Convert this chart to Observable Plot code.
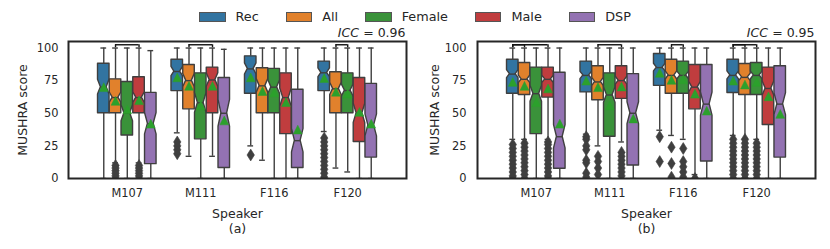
<!DOCTYPE html>
<html><head><meta charset="utf-8">
<script src="https://cdn.jsdelivr.net/npm/d3@7"></script>
<script src="https://cdn.jsdelivr.net/npm/@observablehq/plot@0.6"></script>
<style>
body{margin:0;background:#fff;}
#chart{position:relative;width:830px;height:249px;font-family:"DejaVu Sans",sans-serif;color:#262626;overflow:hidden;}
.panel{position:absolute;top:0;}
#legend{position:absolute;top:8px;left:0;width:830px;display:flex;justify-content:center;font-size:12.8px;line-height:18px;}
.item{display:flex;align-items:center;margin:0 13.5px;}
.sw{width:24.5px;height:7.5px;border:0.8px solid #555;margin-right:10px;}
.panel svg [aria-label="y-axis label"] text{font-size:12.5px;}
</style>
</head><body>
<div id="chart"><div id="legend"></div></div>
<script>
const speakers = ["M107", "M111", "F116", "F120"];
const systems = ["Rec", "All", "Female", "Male", "DSP"];
const colors = ["#3274a1", "#e1812c", "#3a923a", "#c03d3e", "#9372b2"];
const yTicks = [0, 25, 50, 75, 100];

// Panel (a): rows = speakers, columns = systems
const aQ1   = [[50, 50, 33, 50, 11], [67, 53, 30, 50, 8], [65, 50, 50, 34, 8], [67, 50, 50, 28, 16]];
const aMed  = [[70, 62, 50, 62, 42], [82, 75, 58, 75.5, 50], [84, 71, 70, 62, 29], [81, 68.7, 67.4, 50, 40.7]];
const aQ3   = [[88, 76, 74, 77.6, 65.6], [91, 87, 80.6, 85, 77], [93.6, 84.5, 84, 80.6, 68], [89.6, 81.4, 80.6, 77, 72.5]];
const aLo   = [[0, 12, 0, 12, 0], [35, 17, 0, 17, 0], [25, 14, 0, 0, 0], [36, 8, 5, 0, 0]];
const aHi   = [[100, 100, 100, 100, 98], [100, 100, 100, 100, 99], [100, 100, 100, 100, 100], [100, 100, 100, 100, 100]];
const aMean = [[70, 59.5, 53, 60, 42], [77.5, 71, 56, 71, 44.5], [77.5, 67, 66, 58.5, 37.5], [77, 66.5, 65, 51, 42]];
const aOut  = [
  [[], [0, 2, 4, 6, 8, 10], [], [0, 2, 4, 6, 8, 10], []],
  [[19, 22, 25, 28], [], [], [], []],
  [[18], [], [], [], []],
  [[1, 4, 7, 10, 13, 16, 19, 22, 25, 28, 31], [], [], [], []]
];
const aBrackets = [["M107", "All", "Male"], ["M111", "All", "Male"], ["F120", "All", "Female"]];
const aN = 110;

// Panel (b)
const bQ1   = [[65, 64, 34, 62, 7.5], [66, 60, 32, 61, 10], [71, 65, 65, 53, 13], [65.5, 64, 64, 41, 16]];
const bMed  = [[80, 76, 65, 76, 32], [79, 74, 64, 75, 50], [85, 79, 79, 70, 57], [79, 77.5, 79, 69, 57]];
const bQ3   = [[91, 88.5, 85, 85, 81], [89.6, 86, 80.6, 86, 80], [95.4, 91, 89.6, 87, 87], [91, 87.8, 88.5, 85, 86]];
const bLo   = [[30, 30, 0, 30, 0], [34, 25, 0, 28, 0], [37, 33, 30, 3, 0], [33, 30, 30, 0, 0]];
const bHi   = [[100, 100, 100, 100, 100], [100, 100, 100, 100, 100], [100, 100, 100, 100, 100], [100, 100, 100, 100, 100]];
const bMean = [[74, 71, 58.5, 69, 42], [75, 70, 56, 70.5, 46], [81, 75.6, 76, 65, 52], [75, 72, 74, 63, 49.5]];
const bOut  = [
  [[0, 2, 5, 8, 11, 14, 17, 20, 23, 26], [0, 3, 6, 9, 12, 15, 18, 21, 24, 27], [], [0, 2, 5, 8, 11, 14, 17, 20, 23, 26, 28], []],
  [[1, 4, 12, 14, 22, 25, 30, 32], [3, 8, 13, 17], [], [2, 5, 8, 11, 14, 17, 20], []],
  [[13, 32], [1, 11.5, 24], [1, 5, 9, 13, 23], [0], []],
  [[0, 3, 6, 9, 12, 15, 18, 21, 24, 27, 30], [0, 3, 6, 9, 12, 15, 18, 21, 24, 27, 30], [0, 3, 6, 9, 12, 15, 18, 21, 24, 27], [], []]
];
const bBrackets = [["M107", "Rec", "All"], ["M107", "Rec", "Male"], ["M111", "All", "Male"], ["F116", "All", "Female"], ["F120", "Rec", "All"], ["F120", "Rec", "Female"]];
const bN = 170;

const iccA = "0.96", iccB = "0.95";

// legend
const lg = document.getElementById("legend");
systems.forEach((s, j) => {
  const it = document.createElement("div"); it.className = "item";
  it.innerHTML = `<span class="sw" style="background:${colors[j]}"></span><span>${s}</span>`;
  lg.appendChild(it);
});

const EDGE = "#3f3f3f";
const DODGE = 0.16, HW = 0.8 / 5 * 0.98 / 2;
const pos = (sp, sy) => speakers.indexOf(sp) + (systems.indexOf(sy) - 2) * DODGE;

const thinDiamond = {draw(ctx, size) { const r = Math.sqrt(size / Math.PI); ctx.moveTo(0, -r * 1.6); ctx.lineTo(r, 0); ctx.lineTo(0, r * 1.6); ctx.lineTo(-r, 0); ctx.closePath(); }};
const triUp = {draw(ctx, size) { const r = Math.sqrt(size / Math.PI); ctx.moveTo(0, -r); ctx.lineTo(r, r); ctx.lineTo(-r, r); ctx.closePath(); }};

function panel(P, opts) {
  const rows = [];
  speakers.forEach((sp, i) => systems.forEach((sy, j) => rows.push({
    id: sp + sy, speaker: sp, system: sy, x: pos(sp, sy),
    q1: P.q1[i][j], med: P.med[i][j], q3: P.q3[i][j], lo: P.lo[i][j], hi: P.hi[i][j], mean: P.mean[i][j], out: P.out[i][j]
  })));
  const boxPts = rows.flatMap(d => {
    const ci = 1.57 * (d.q3 - d.q1) / Math.sqrt(P.n);
    return [[d.q1, 0], [d.med - ci, 0], [d.med, 1], [d.med + ci, 0], [d.q3, 0]].map(([y, k]) => ({...d, y, inset: k}));
  });
  const fliers = rows.flatMap(d => d.out.map(v => ({x: d.x, v})));
  const BY = 102.5;
  const br = P.brackets.map(([sp, a, b]) => ({x1: pos(sp, a), x2: pos(sp, b)}));
  const legs = P.brackets.flatMap(([sp, a, b]) => [{x: pos(sp, a)}, {x: pos(sp, b)}]);
  return Plot.plot({
    width: 415, height: 249,
    marginLeft: opts.ml, marginRight: opts.mr, marginTop: 41, marginBottom: 71,
    style: {fontFamily: "DejaVu Sans", fontSize: "11.4px", color: "#262626", background: "transparent", overflow: "visible"},
    x: {domain: [-0.8, 3.8]},
    y: {domain: [0, 105]},
    color: {domain: systems, range: colors},
    marks: [
      Plot.axisY({ticks: yTicks, tickSize: 0, tickPadding: opts.tp, label: "MUSHRA score", labelAnchor: "center", labelArrow: "none", labelOffset: opts.lo}),
      Plot.axisX({ticks: [0, 1, 2, 3], tickFormat: i => speakers[i], tickSize: 0, tickPadding: 10, label: null}),
      Plot.ruleX(rows, {x: "x", y1: "q3", y2: "hi", stroke: EDGE, strokeWidth: 1.4, clip: true}),
      Plot.ruleX(rows, {x: "x", y1: "q1", y2: "lo", stroke: EDGE, strokeWidth: 1.4, clip: true}),
      Plot.ruleY(rows, {y: "hi", x1: d => d.x - HW / 2, x2: d => d.x + HW / 2, stroke: EDGE, strokeWidth: 1.4, clip: true}),
      Plot.ruleY(rows, {y: "lo", x1: d => d.x - HW / 2, x2: d => d.x + HW / 2, stroke: EDGE, strokeWidth: 1.4, clip: true}),
      Plot.areaX(boxPts, {y: "y", x1: d => d.x - HW + d.inset * HW / 2, x2: d => d.x + HW - d.inset * HW / 2, z: "id", fill: "system", stroke: EDGE, strokeWidth: 1.4, clip: true}),
      Plot.ruleY(rows, {y: "med", x1: d => d.x - HW / 2, x2: d => d.x + HW / 2, stroke: EDGE, strokeWidth: 1.4}),
      Plot.dot(fliers, {x: "x", y: "v", symbol: thinDiamond, r: 3.7, fill: EDGE, stroke: EDGE, strokeWidth: 0.6, clip: true}),
      Plot.dot(rows, {x: "x", y: "mean", symbol: triUp, r: 4.4, fill: "#2ca02c", stroke: "#2ca02c", strokeWidth: 0.5}),
      Plot.ruleY(br, {y: BY, x1: "x1", x2: "x2", stroke: "#111", strokeWidth: 1.4}),
      Plot.ruleX(legs, {x: "x", y1: 100.4, y2: BY, stroke: "#111", strokeWidth: 1.4}),
      Plot.frame({stroke: "#262626", strokeWidth: 2}),
      Plot.text([0], {frameAnchor: "top-right", text: [" = " + P.icc], textAnchor: "end", lineAnchor: "middle", dy: -9, dx: -1, fontSize: 12.5}),
      Plot.text([0], {frameAnchor: "top-right", text: ["ICC"], textAnchor: "end", lineAnchor: "middle", dy: -9, dx: -47.5, fontSize: 12.5, fontStyle: "italic"}),
      Plot.text([0], {frameAnchor: "bottom", text: ["Speaker"], lineAnchor: "middle", dy: 35, fontSize: 12.5}),
      Plot.text([0], {frameAnchor: "bottom", text: [P.tag], lineAnchor: "middle", dy: 50, fontSize: 12.5})
    ]
  });
}

const chart = document.getElementById("chart");
const pa = panel({q1: aQ1, med: aMed, q3: aQ3, lo: aLo, hi: aHi, mean: aMean, out: aOut, brackets: aBrackets, n: aN, icc: iccA, tag: "(a)"}, {ml: 68, mr: 9, tp: 10, lo: 50});
const pb = panel({q1: bQ1, med: bMed, q3: bQ3, lo: bLo, hi: bHi, mean: bMean, out: bOut, brackets: bBrackets, n: bN, icc: iccB, tag: "(b)"}, {ml: 62, mr: 15, tp: 11, lo: 47});
const da = document.createElement("div"); da.className = "panel"; da.style.left = "0px"; da.appendChild(pa);
const db = document.createElement("div"); db.className = "panel"; db.style.left = "415px"; db.appendChild(pb);
chart.appendChild(da); chart.appendChild(db);
</script>
</body></html>
